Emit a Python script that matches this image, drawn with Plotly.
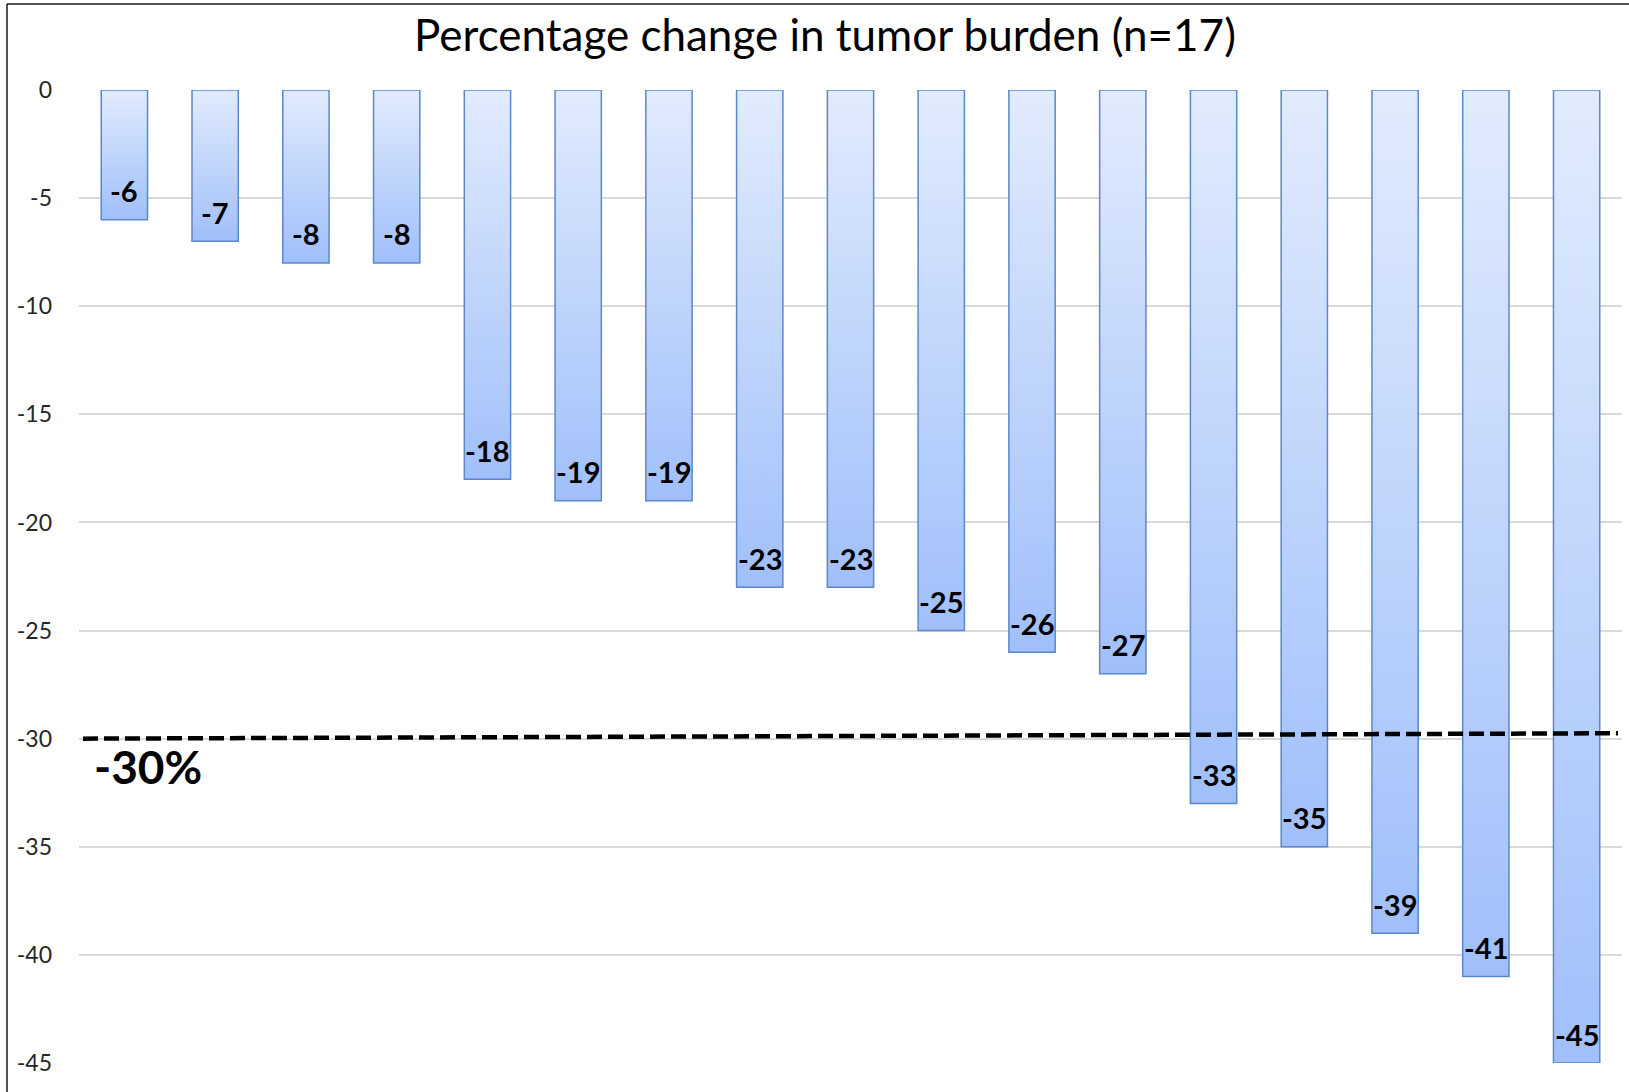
import plotly.graph_objects as go

# Waterfall of best percentage change in tumour burden, one bar per patient
patients = [f"P{i}" for i in range(1, 18)]
change_pct = [-6, -7, -8, -8, -18, -19, -19, -23, -23, -25, -26, -27, -33, -35, -39, -41, -45]
y_ticks = [0, -5, -10, -15, -20, -25, -30, -35, -40, -45]
threshold = -30
threshold_label = "-30%"
title_text = "Percentage change in tumor burden (n=17)"

# Canvas and plot-area geometry (px)
W, H = 1629, 1092
ML, MR, MT, MB = 79, 7, 90, 29
PW, PH = W - ML - MR, H - MT - MB
BAR_W = 0.51

FONT = "Lato, 'Open Sans', sans-serif"
BAR_TOP = "#e1ebfd"
BAR_BOTTOM = "#a0bffa"
BAR_EDGE = "#5b88c8"

fig = go.Figure()

# Each bar is a filled polygon so it can carry its own top-to-bottom gradient
for i, v in enumerate(change_pct):
    x0, x1 = i - BAR_W / 2, i + BAR_W / 2
    fig.add_trace(go.Scatter(
        x=[x0, x1, x1, x0, x0],
        y=[0, 0, v, v, 0],
        mode="lines",
        fill="toself",
        fillgradient=dict(type="vertical",
                          colorscale=[[0, BAR_BOTTOM], [1, BAR_TOP]]),
        line=dict(color=BAR_EDGE, width=1.5),
        name=patients[i],
        hoverinfo="skip",
        showlegend=False,
    ))

# Value labels just inside the end of each bar
for i, v in enumerate(change_pct):
    fig.add_annotation(
        x=i, y=v, xref="x", yref="y",
        text=f"<b>{v}</b>", showarrow=False,
        yanchor="middle", yshift=29,
        font=dict(family=FONT, size=29, color="#000000"),
    )

# -30% response threshold
fig.add_shape(
    type="line", xref="paper", yref="y",
    x0=4 / PW, x1=(PW - 4) / PW, y0=threshold, y1=threshold + 0.25,
    line=dict(color="#000000", width=4.5, dash="15px,6px"),
    layer="above",
)
fig.add_annotation(
    xref="paper", yref="y", x=13 / PW, y=threshold,
    xanchor="left", yanchor="middle", yshift=-28,
    text=f"<b>{threshold_label}</b>", showarrow=False,
    font=dict(family=FONT, size=46, color="#000000"),
)

# Chart-area frame (left and top edges)
fx0 = (7 - ML) / PW
fy_top = 1 + (MT - 4) / PH
fy_bot = -MB / PH
fig.add_shape(type="line", xref="paper", yref="paper",
              x0=fx0, x1=fx0, y0=fy_bot - 0.01, y1=fy_top,
              line=dict(color="#1a1a1a", width=1.5))
fig.add_shape(type="line", xref="paper", yref="paper",
              x0=fx0, x1=(W - ML) / PW + 0.01, y0=fy_top, y1=fy_top,
              line=dict(color="#1a1a1a", width=1.5))

fig.update_layout(
    width=W, height=H,
    margin=dict(l=ML, r=MR, t=MT, b=MB, pad=0),
    paper_bgcolor="#ffffff",
    plot_bgcolor="#ffffff",
    title=dict(
        text=title_text,
        xref="container", yref="container",
        x=825 / W, y=1 - 36 / H,
        xanchor="center", yanchor="middle",
        font=dict(family=FONT, size=44, color="#000000"),
    ),
    xaxis=dict(
        range=[-0.5, len(change_pct) - 0.5],
        showticklabels=False, showgrid=False, zeroline=False,
        showline=False, ticks="",
    ),
    yaxis=dict(
        range=[-45, 0],
        tickvals=y_ticks,
        ticktext=[str(t) for t in y_ticks],
        showgrid=True, gridcolor="#d9d9d9", gridwidth=1.5,
        zeroline=False, showline=False, ticks="",
        ticklabelstandoff=26,
        tickfont=dict(family=FONT, size=23, color="#262626"),
    ),
    showlegend=False,
)

fig.write_html("out.html")
